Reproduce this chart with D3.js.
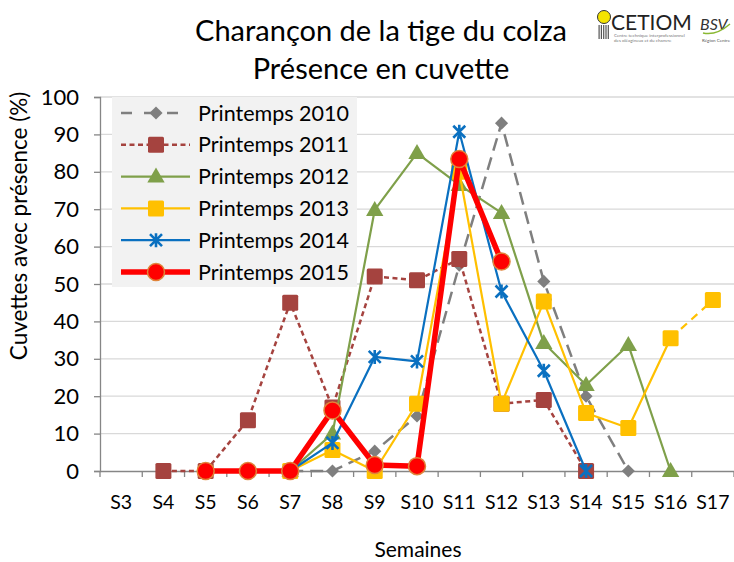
<!DOCTYPE html>
<html><head><meta charset="utf-8">
<script src="https://cdn.jsdelivr.net/npm/d3@7"></script>
<style>body{margin:0;background:#fff}svg{display:block}text{font-family:Lato,"Open Sans",sans-serif}</style>
</head><body><svg id="c" width="734" height="562"></svg>
<script>
const weeks = ["S3","S4","S5","S6","S7","S8","S9","S10","S11","S12","S13","S14","S15","S16","S17"];
const yTicks = [0,10,20,30,40,50,60,70,80,90,100];
const s2010 = [null,null,null,null,0,0,5.3,14.7,55,93,50.7,20,0,null,null];
const s2011 = [null,0,0,13.6,45,17,52,51,56.7,18,19,0,null,null,null];
const s2012 = [null,null,null,null,0,10,69.8,85,76.5,69,34.2,23,33.7,0,null];
const s2013 = [null,null,null,null,0,5.6,0,18,80,18,45.3,15.5,11.5,35.5,45.7];
const s2014 = [null,null,null,null,0,7.5,30.5,29.3,90.7,48,26.8,0,null,null,null];
const s2015 = [null,null,0,0,0,16.2,1.6,1.3,83.4,56,null,null,null,null,null];
const seriesNames = ["Printemps 2010","Printemps 2011","Printemps 2012","Printemps 2013","Printemps 2014","Printemps 2015"];

const series = [
  {name:seriesNames[0], values:s2010, color:"#7f7f7f", width:2.5, dash:"13,7", marker:"diamond"},
  {name:seriesNames[1], values:s2011, color:"#a5433f", width:2.5, dash:"5,3.5", marker:"square"},
  {name:seriesNames[2], values:s2012, color:"#7fa04a", width:2.2, dash:null, marker:"triangle"},
  {name:seriesNames[3], values:s2013, color:"#ffc000", width:2.2, dash:null, marker:"square", dashedLast:true},
  {name:seriesNames[4], values:s2014, color:"#0a70c0", width:2.2, dash:null, marker:"x"},
  {name:seriesNames[5], values:s2015, color:"#ff0000", width:5.5, dash:null, marker:"circle"}
];

const svg = d3.select("#c");
const L=100, R=734, T=97, B=471;
const x = d3.scaleBand().domain(weeks).range([L,R]);
const y = d3.scaleLinear().domain([0,100]).range([B,T]);
const cx = d => x(d)+x.bandwidth()/2;

// grid
svg.append("g").selectAll("line").data(yTicks.filter(d=>d>0)).join("line")
  .attr("x1",L).attr("x2",R).attr("y1",d=>y(d)).attr("y2",d=>y(d))
  .attr("stroke","#d9d9d9").attr("stroke-width",1.3);

// y axis
const ya = svg.append("g").attr("transform",`translate(${L},0)`)
  .call(d3.axisLeft(y).tickValues(yTicks).tickSize(6).tickPadding(15));
ya.select(".domain").attr("stroke","#868686").attr("stroke-width",1.3);
ya.selectAll(".tick line").attr("stroke","#868686").attr("stroke-width",1.3);
ya.selectAll("text").attr("font-size",22).attr("fill","#000").attr("font-family","Lato");

// x axis
const xa = svg.append("g").attr("transform",`translate(0,${B})`)
  .call(d3.axisBottom(x).tickSize(0).tickPadding(24));
xa.select(".domain").attr("stroke","#868686").attr("stroke-width",1.3);
xa.selectAll("text").attr("font-size",19.5).attr("fill","#000").attr("font-family","Lato");
svg.append("g").selectAll("line").data(weeks.concat(["end"])).join("line")
  .attr("x1",(d,i)=>L+i*x.bandwidth()).attr("x2",(d,i)=>L+i*x.bandwidth())
  .attr("y1",B).attr("y2",B+6).attr("stroke","#868686").attr("stroke-width",1.3);

// markers
function marker(g, type, color, px, py){
  if(type==="diamond"){
    g.append("path").attr("d",d3.symbol().type(d3.symbolDiamond2).size(110)()).attr("transform",`translate(${px},${py})`).attr("fill",color);
  } else if(type==="square"){
    g.append("rect").attr("x",px-8).attr("y",py-8).attr("width",16).attr("height",16).attr("fill",color).attr("rx",1.5);
  } else if(type==="triangle"){
    g.append("path").attr("d",d3.symbol().type(d3.symbolTriangle).size(130)()).attr("transform",`translate(${px},${py+1})`).attr("fill",color);
  } else if(type==="x"){
    const s=6;
    g.append("path").attr("d",`M${px-s},${py-s}L${px+s},${py+s}M${px-s},${py+s}L${px+s},${py-s}M${px},${py-s-1}L${px},${py+s+1}`)
      .attr("stroke",color).attr("stroke-width",2.6).attr("fill","none");
  } else if(type==="circle"){
    g.append("circle").attr("cx",px).attr("cy",py).attr("r",8.5).attr("fill",color).attr("stroke","#e0843a").attr("stroke-width",1.5);
  }
}

const lineGen = d3.line().defined(d=>d.v!==null).x(d=>cx(d.w)).y(d=>y(d.v));
series.forEach(s=>{
  const g = svg.append("g");
  const pts = weeks.map((w,i)=>({w, v:s.values[i]}));
  let main = pts, tail = null;
  if(s.dashedLast){
    main = pts.slice(0, pts.length-1);
    tail = pts.slice(pts.length-2);
  }
  g.append("path").attr("d",lineGen(main)).attr("fill","none").attr("stroke",s.color)
    .attr("stroke-width",s.width).attr("stroke-dasharray",s.dash).attr("stroke-linejoin","round").attr("stroke-linecap",s.dash?"butt":"round");
  if(tail) g.append("path").attr("d",lineGen(tail)).attr("fill","none").attr("stroke",s.color)
    .attr("stroke-width",s.width).attr("stroke-dasharray","8,6");
  pts.filter(d=>d.v!==null).forEach(d=>marker(g,s.marker,s.color,cx(d.w),y(d.v)));
});

// legend
const lg = svg.append("g");
lg.append("rect").attr("x",112).attr("y",97).attr("width",245).attr("height",190).attr("fill","#f2f2f2");
series.forEach((s,i)=>{
  const yy = 113 + i*31.8;
  lg.append("line").attr("x1",121).attr("x2",190).attr("y1",yy).attr("y2",yy)
    .attr("stroke",s.color).attr("stroke-width",s.width).attr("stroke-dasharray",s.dash ? (i===0?"11,12":"5,3.5") : null);
  marker(lg,s.marker,s.color,156,yy);
  lg.append("text").attr("x",198).attr("y",yy).attr("dy","0.35em").attr("font-size",21.5).attr("fill","#000").text(s.name);
});

// titles
svg.append("text").attr("x",381).attr("y",41).attr("text-anchor","middle").attr("font-size",29).attr("fill","#000").text("Charançon de la tige du colza");
svg.append("text").attr("x",381).attr("y",79).attr("text-anchor","middle").attr("font-size",29).attr("fill","#000").text("Présence en cuvette");
svg.append("text").attr("transform","translate(27,226) rotate(-90)").attr("text-anchor","middle").attr("font-size",22.5).attr("fill","#000").text("Cuvettes avec présence (%)");
svg.append("text").attr("x",418).attr("y",557).attr("text-anchor","middle").attr("font-size",21).attr("fill","#000").text("Semaines");

// logos
const lo = svg.append("g");
lo.append("circle").attr("cx",604).attr("cy",17).attr("r",6.5).attr("fill","#f5e400").attr("stroke","#333").attr("stroke-width",1);
for(let k=0;k<5;k++) lo.append("rect").attr("x",598.5+k*2.3).attr("y",25).attr("width",1.2).attr("height",14).attr("fill","#555");
lo.append("text").attr("x",611).attr("y",30).attr("font-size",21).attr("font-family","Liberation Sans Narrow, Liberation Sans").attr("fill","#222").text("CETIOM");
lo.append("text").attr("x",614).attr("y",37).attr("font-size",4.5).attr("fill","#777").text("Centre technique interprofessionnel");
lo.append("text").attr("x",614).attr("y",42).attr("font-size",4.5).attr("fill","#777").text("des oléagineux et du chanvre");
lo.append("text").attr("x",700).attr("y",30).attr("font-size",16).attr("font-style","italic").attr("font-family","DejaVu Serif").attr("fill","#333").text("BSV");
lo.append("path").attr("d","M703,33 Q716,36 730,24").attr("fill","none").attr("stroke","#8ab832").attr("stroke-width",1.5);
lo.append("text").attr("x",702).attr("y",42).attr("font-size",4.5).attr("fill","#555").text("Région Centre");
</script></body></html>
